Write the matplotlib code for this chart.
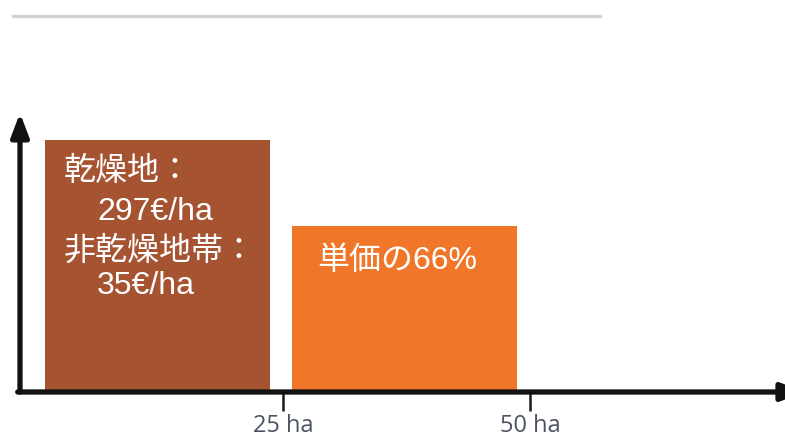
import matplotlib
matplotlib.use("Agg")
import matplotlib.pyplot as plt
from matplotlib.patches import FancyArrowPatch
from matplotlib.lines import Line2D

# Payment structure: full rate up to 25 ha, reduced rate for the next 25 ha
band_centers = [12.3, 37.3]          # ha
band_width = 22.8                    # ha
rate_share = [100, 66]               # % of the unit rate
bar_colors = ["#A65332", "#F0772A"]
tick_values = [25, 50]
tick_labels = ["25 ha", "50 ha"]

first_band_lines = ["乾燥地：", "297€/ha", "非乾燥地帯：", "35€/ha"]
second_band_text = "単価の66%"

W, H = 785, 437
fig = plt.figure(figsize=(W / 100, H / 100), dpi=100)

# axes box in figure pixels
left_px, right_px = 20, 785
bottom_px, top_px = 392, 113
ax = fig.add_axes([left_px / W, (H - bottom_px) / H,
                   (right_px - left_px) / W, (bottom_px - top_px) / H])
px_per_ha = 9.88
ax.set_xlim((left_px - 36) / px_per_ha, (right_px - 36) / px_per_ha)
ax.set_ylim(0, (bottom_px - top_px) / 2.52)

ax.bar(band_centers, rate_share, width=band_width, color=bar_colors,
       bottom=0, zorder=2)

for s in ax.spines.values():
    s.set_visible(False)
ax.set_yticks([])
ax.set_xticks(tick_values)
ax.set_xticklabels(tick_labels, fontsize=17, color="#4b5263",
                   family=["Open Sans", "DejaVu Sans"])
ax.tick_params(axis="x", length=14, width=1.8, color="#1a1a1a", pad=2)

# arrowed axes
arrow_kw = dict(arrowstyle="-|>,head_length=1.0,head_width=0.38", lw=3.8,
                color="#111111", mutation_scale=14, clip_on=False, zorder=5)
ax.add_patch(FancyArrowPatch((0, 0), (0, 1.0), transform=ax.transAxes,
                             shrinkA=0, shrinkB=0, **arrow_kw))
ax.add_patch(FancyArrowPatch((-0.003, 0), (1.026, 0), transform=ax.transAxes,
                             shrinkA=0, shrinkB=0, **arrow_kw))

# labels inside the bars
txt_family = ["Liberation Sans", "Noto Sans CJK JP"]
line_y = [172, 212, 251, 286]
line_x = [64, 97, 64, 97]
for s, x, y in zip(first_band_lines, line_x, line_y):
    fig.text(x / W, 1 - y / H, s, color="white", fontsize=23,
             family=txt_family, ha="left", va="center")
fig.text(317 / W, 1 - 261 / H, second_band_text, color="white", fontsize=23,
         family=txt_family, ha="left", va="center")

# header rule
fig.add_artist(Line2D([13 / W, 600 / W], [1 - 15.5 / H, 1 - 15.5 / H],
                      color="#d3d3d3", lw=2.4))

fig.savefig("out.png", dpi=100)
